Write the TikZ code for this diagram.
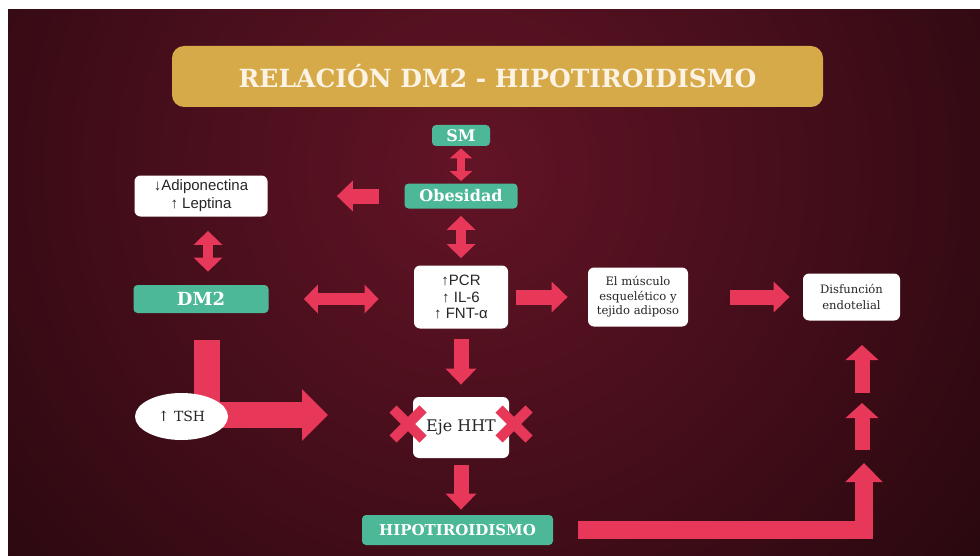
\documentclass[tikz,border=0pt]{standalone}
\usepackage{fontspec}
\setmainfont{DejaVu Serif}
\newfontfamily\sinserif{Liberation Sans}
\usetikzlibrary{arrows.meta,shapes.geometric}
\definecolor{rojo}{RGB}{232,56,90}
\definecolor{verdeM}{RGB}{76,184,152}
\definecolor{oro}{RGB}{214,170,72}
\definecolor{crema}{RGB}{252,243,228}
\definecolor{fondoA}{RGB}{98,20,38}
\definecolor{fondoB}{RGB}{20,3,6}

\begin{document}
\begin{tikzpicture}[x=0.5pt,y=-0.5pt,
  caja/.style={fill=white,rounded corners=3pt,inner sep=0pt,align=center,text=black!85},
  tverde/.style={fill=verdeM,rounded corners=2pt,inner sep=0pt,text=white,
    font=\bfseries\fontsize{8}{9}\selectfont},
  flecha/.style={draw=rojo,line width=7.5pt,-{Triangle[length=8pt,width=15pt]}},
  dflecha/.style={draw=rojo,line width=6pt,
    {Triangle[length=7pt,width=14pt]}-{Triangle[length=7pt,width=14pt]}},
  cruz/.style={draw=rojo,line width=5pt}]
  \useasboundingbox (0,0) rectangle (980,556);
  \fill[white] (0,0) rectangle (980,556);
  \begin{scope}
    \clip (8,10) rectangle (980,556);
    \shade[inner color=fondoA,outer color=fondoB] (470,170) circle (880);
  \end{scope}

  % titulo
  \node[fill=oro,rounded corners=6pt,minimum width=325.5pt,minimum height=30.5pt,
    text=crema,font=\bfseries\fontsize{12.5}{14}\selectfont] (titulo) at (497.5,76.5)
    {RELACIÓN DM2 - HIPOTIROIDISMO};

  % cajas
  \node[tverde,minimum width=29pt,minimum height=10.5pt] (sm) at (461,135.5) {SM};
  \node[tverde,minimum width=56.5pt,minimum height=12.5pt] (obes) at (461,196) {Obesidad};
  \node[caja,minimum width=66.5pt,minimum height=20.5pt,
    font=\sinserif\fontsize{7.5}{9}\selectfont] (adipo) at (201,196)
    {↓Adiponectina\\↑ Leptina};
  \node[tverde,minimum width=67.5pt,minimum height=14pt,
    font=\bfseries\fontsize{9}{10}\selectfont] (dm2) at (201,299) {DM2};
  \node[caja,minimum width=47pt,minimum height=31.5pt,
    font=\sinserif\fontsize{7.5}{8.3}\selectfont] (pcr) at (461,297)
    {↑PCR\\↑ IL-6\\↑ FNT-α};
  \node[caja,minimum width=50pt,minimum height=29.5pt,
    font=\fontsize{5.8}{7.3}\selectfont] (musculo) at (638,297)
    {El músculo\\esquelético y\\tejido adiposo};
  \node[caja,minimum width=48.5pt,minimum height=23.5pt,
    font=\fontsize{5.8}{8}\selectfont] (disf) at (851.5,297)
    {Disfunción\\endotelial};
  \node[caja,minimum width=48pt,minimum height=30.5pt,
    font=\fontsize{8}{9}\selectfont] (eje) at (461,427.5) {Eje HHT};
  \node[tverde,minimum width=95.5pt,minimum height=15pt,
    font=\bfseries\fontsize{7.5}{9}\selectfont] (hipo) at (457.5,530) {HIPOTIROIDISMO};

  \coordinate (tshpunta) at (328,415);
  \coordinate (fin1) at (864,463);
  \coordinate (a1) at (862,450);
  \coordinate (a2) at (862,403);
  \coordinate (a3) at (862,393);
  \coordinate (a4) at (862,345);

  % flechas
  \draw[dflecha,line width=4pt,
    {Triangle[length=5pt,width=11pt]}-{Triangle[length=5pt,width=11pt]},
    shorten <=1pt,shorten >=1pt] (sm) -- (obes);
  \draw[flecha,shorten <=12.5pt,shorten >=34.5pt] (obes) -- (adipo);
  \draw[dflecha,line width=5pt,shorten <=7pt,shorten >=6.5pt]
    ([xshift=3.5pt]adipo.south) -- ([xshift=3.5pt]dm2.north);
  \draw[dflecha,line width=5pt,shorten <=3.5pt,shorten >=3.5pt] (obes) -- (pcr);
  \draw[dflecha,shorten <=17.5pt,shorten >=17.5pt] (dm2.east) -- (dm2.east -| pcr.west);
  \draw[flecha,shorten <=4pt,shorten >=10pt] (pcr) -- (musculo);
  \draw[flecha,shorten <=21pt,shorten >=6.5pt] (musculo) -- (disf);
  \draw[flecha,shorten <=5pt,shorten >=6pt] (pcr) -- (eje);
  \draw[flecha,shorten <=3.5pt,shorten >=2.5pt] (eje.south) -- (eje.south |- hipo.north);
  \draw[flecha,line width=13pt,-{Triangle[length=13pt,width=25pt]},shorten <=13.5pt]
    ([xshift=3pt]dm2.south) |- (tshpunta);
  \node[caja,ellipse,minimum width=46.5pt,minimum height=23.5pt,
    font=\fontsize{7}{8}\selectfont] (tsh) at (181.5,416.5) {↑ TSH};
  \draw[flecha,line width=9pt,-{Triangle[length=9.5pt,width=18pt]},shorten <=12.5pt]
    (hipo.east) -| (fin1);
  \draw[flecha,-{Triangle[length=7.5pt,width=16pt]}] (a1) -- (a2);
  \draw[flecha,-{Triangle[length=7.5pt,width=16pt]}] (a3) -- (a4);

  % cruces sobre el eje
  \foreach \cx in {408,514}
    \draw[cruz] (\cx-15,409) -- (\cx+15,439) (\cx-15,439) -- (\cx+15,409);
\end{tikzpicture}
\end{document}
